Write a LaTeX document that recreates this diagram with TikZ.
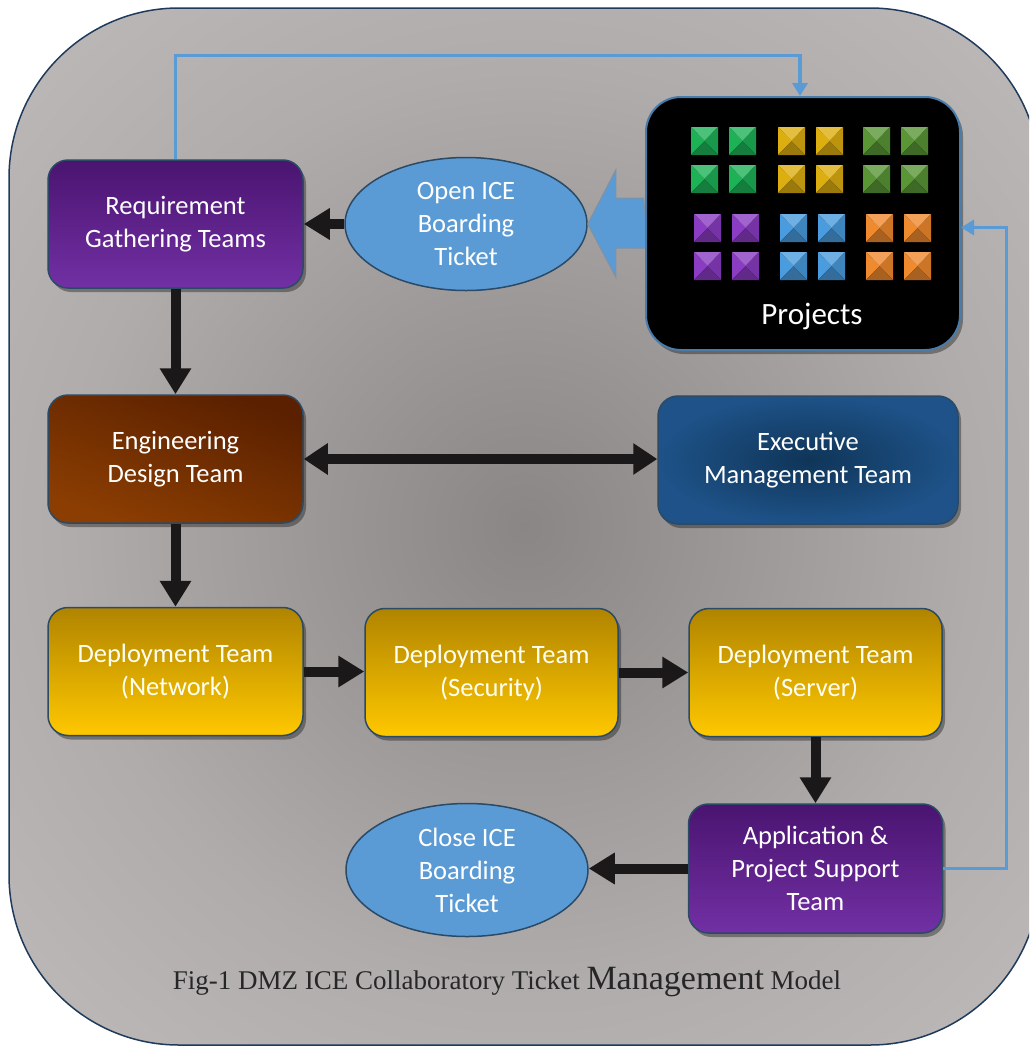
\documentclass[tikz,border=0pt]{standalone}
\usepackage{fontspec}
\setmainfont{Carlito}
\newfontfamily\capfont{Liberation Serif}
\usetikzlibrary{arrows.meta,shapes.geometric,shadows,calc}
\definecolor{bgc}{HTML}{8A8686}
\definecolor{bgm}{HTML}{B0ACAC}
\definecolor{bgo}{HTML}{CDC9C9}
\pgfdeclareradialshading{bgshade}{\pgfpoint{0bp}{0bp}}{color(0bp)=(bgc); color(22bp)=(bgm); color(50bp)=(bgo); color(100bp)=(bgo)}
\definecolor{frameblue}{HTML}{1F3A5A}
\definecolor{edgeblue}{HTML}{2A4A66}
\definecolor{lblue}{HTML}{5B9BD5}
\definecolor{arrblk}{HTML}{1A1818}
\definecolor{purT}{HTML}{4A1470}
\definecolor{purB}{HTML}{7230A4}
\definecolor{brnT}{HTML}{5A2000}
\definecolor{brnB}{HTML}{8C3E02}
\definecolor{exeI}{HTML}{0F3558}
\definecolor{exeO}{HTML}{1E5288}
\definecolor{yelT}{HTML}{B08400}
\definecolor{yelB}{HTML}{FFC800}
\definecolor{sqgreen}{HTML}{1EB257}
\definecolor{sqyellow}{HTML}{DDAE10}
\definecolor{sqolive}{HTML}{5A9636}
\definecolor{sqpurple}{HTML}{8A3CC2}
\definecolor{sqblue}{HTML}{4A9CDE}
\definecolor{sqorange}{HTML}{F08A2E}
\newcommand\prjsq[3]{%
  \fill[#3!80!white] (#1,#2) -- ++(27,0) -- ++(-13.5,14) -- cycle;
  \fill[#3] (#1,#2) -- ++(13.5,14) -- ++(-13.5,14) -- cycle;
  \fill[#3!85!black] (#1+27,#2) -- ++(0,28) -- ++(-13.5,-14) -- cycle;
  \fill[#3!70!black] (#1,#2+28) -- ++(27,0) -- ++(-13.5,-14) -- cycle;
}
\newcommand\prjgroup[3]{%
  \prjsq{#1}{#2}{#3}\prjsq{#1+38}{#2}{#3}%
  \prjsq{#1}{#2+38}{#3}\prjsq{#1+38}{#2+38}{#3}%
}
\tikzset{
  box/.style={rounded corners=20pt, minimum width=255pt, minimum height=128pt,
    align=center, text=white, draw=edgeblue, line width=1.5pt,
    font=\fontsize{26.5}{33}\selectfont,
    drop shadow={shadow xshift=3pt, shadow yshift=-4pt, opacity=0.35, fill=black}},
  purbox/.style={box, top color=purT, bottom color=purB},
  yelbox/.style={box, top color=yelT, bottom color=yelB, text=white!95!yellow},
  ticket/.style={ellipse, minimum width=242pt, minimum height=133pt, inner sep=0pt,
    fill=lblue, draw=edgeblue, line width=1.5pt, align=center, text=white,
    font=\fontsize{26.5}{33}\selectfont},
  blk/.style={draw=arrblk, line width=10pt, -{Triangle[length=26pt,width=30pt]}},
  blkboth/.style={draw=arrblk, line width=10pt, {Triangle[length=24pt,width=30pt]}-{Triangle[length=24pt,width=30pt]}},
  blu/.style={draw=lblue, line width=3.5pt, -{Triangle[length=13pt,width=15pt]}},
}
\begin{document}
\begin{tikzpicture}[x=1pt,y=-1pt]
\useasboundingbox (0,0) rectangle (1029,1047);
\clip (0,0) rectangle (1029,1047);
% background frame
\path[shading=bgshade, rounded corners=170pt] (9,8) rectangle (1040,1045);
\draw[frameblue, line width=1.5pt, rounded corners=170pt] (9,8) rectangle (1040,1045);

% nodes
\node[purbox] (req) at (175.5,224) {Requirement\\Gathering Teams};
\node[ticket] (open) at (466,224) {Open ICE\\Boarding\\Ticket};
\node[box, shading=axis, top color=brnT, bottom color=brnB, shading angle=-20] (eng) at (175.5,459) {Engineering\\Design Team};
\node[box, inner color=exeI, outer color=exeO, minimum width=300pt] (exe) at (808,460) {Executive\\Management Team};
\node[yelbox] (dnet) at (175.5,671.5) {Deployment Team\\(Network)};
\node[yelbox, minimum width=253pt] (dsec) at (491.5,672.5) {Deployment Team\\(Security)};
\node[yelbox, minimum width=253pt] (dsrv) at (815.5,672.5) {Deployment Team\\(Server)};
\node[purbox, minimum width=254pt, minimum height=129pt] (app) at (815.5,868.5) {Application \&\\Project Support\\Team};
\node[ticket] (close) at (467,870) {Close ICE\\Boarding\\Ticket};

% big blue block arrow from projects to open ticket
\fill[lblue, draw=edgeblue!60, line width=1pt]
  ($(open.east)+(56,-26)$) -- ($(open.east)+(28,-26)$) -- ($(open.east)+(28,-54)$) --
  (open.east) -- ($(open.east)+(28,53)$) -- ($(open.east)+(28,24)$) -- ($(open.east)+(60,24)$) -- cycle;

% projects panel
\node[draw=lblue!80!black, line width=2pt, fill=black, rounded corners=35pt,
  minimum width=314pt, minimum height=253pt,
  drop shadow={shadow xshift=3pt, shadow yshift=-4pt, opacity=0.35, fill=black}] (proj) at (803,223.5) {};
\prjgroup{691}{127}{sqgreen}
\prjgroup{778}{127}{sqyellow}
\prjgroup{863}{127}{sqolive}
\prjgroup{694}{214}{sqpurple}
\prjgroup{780}{214}{sqblue}
\prjgroup{866}{214}{sqorange}
\node[text=white, font=\fontsize{31}{34}\selectfont] (projlbl) at (812,316) {Projects};

% connectors
\draw[blk] (open.west) -- (req.east);
\draw[blk] (req.south) -- (eng.north);
\draw[blkboth] (eng.east) -- (eng.east -| exe.west);
\draw[blk] (eng.south) -- (dnet.north);
\draw[blk] (dnet.east) -- (dnet.east -| dsec.west);
\draw[blk] (dsec.east) -- (dsec.east -| dsrv.west);
\draw[blk] (dsrv.south) -- (app.north);
\draw[blk] (app.west) -- (app.west -| close.east);
\draw[blu] (req.north) -- ++(0,-104) -| ([xshift=-3pt]proj.north);
\draw[blu] (app.east) -- ++(63,0) |- ([yshift=-4pt]proj.east);

% caption
\node[font=\capfont\fontsize{27}{30}\selectfont, text=black!85] (cap) at (507,982)
  {Fig-1 DMZ ICE Collaboratory Ticket {\fontsize{34}{34}\selectfont Management} Model};
\end{tikzpicture}
\end{document}
